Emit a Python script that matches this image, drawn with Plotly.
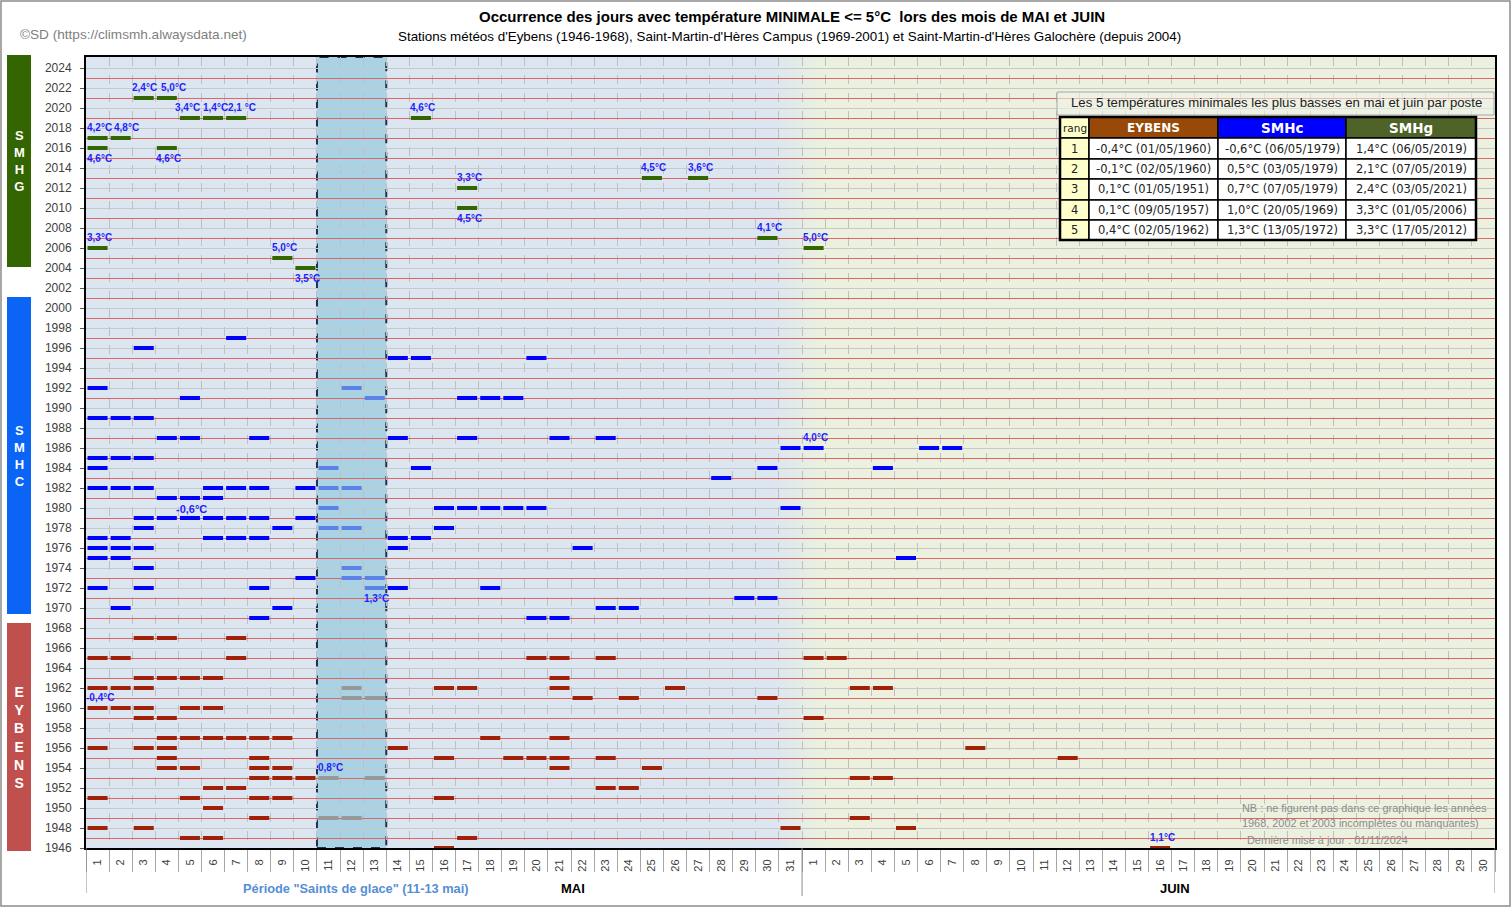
import plotly.graph_objects as go

# ---------------- data ----------------
may_days = list(range(1, 32))
june_days = list(range(1, 31))
day_tick_labels = [str(d) for d in may_days] + [str(d) for d in june_days]
year_tick_values = list(range(1946, 2025, 2))

# day index: 1..31 = 1..31 May, 32..61 = 1..30 June
# SMHg (Saint-Martin-d'Hères Galochère, since 2004): every occurrence with its Tmin
smhg_days = [3, 4, 5, 6, 7, 15, 1, 2, 1, 4, 17, 17, 25, 27, 30, 1, 32, 9, 10]
smhg_years = [2021, 2021, 2019, 2019, 2019, 2019, 2017, 2017, 2016, 2016,
              2012, 2010, 2013, 2013, 2007, 2006, 2006, 2005, 2004]
smhg_tmin = ["2,4°C", "5,0°C", "3,4°C", "1,4°C", "2,1 °C", "4,6°C", "4,2°C", "4,8°C",
             "4,6°C", "4,6°C", "3,3°C", "4,5°C", "4,5°C", "3,6°C", "4,1°C", "3,3°C",
             "5,0°C", "5,0°C", "3,5°C"]

# SMHc (Saint-Martin-d'Hères Campus, 1969-2001): year -> days
smhc_days_by_year = {
    1997: [7], 1996: [3], 1995: [14, 15, 20], 1992: [1], 1991: [5, 17, 18, 19],
    1989: [1, 2, 3], 1987: [4, 5, 8, 14, 17, 21, 23], 1986: [31, 32, 37, 38],
    1985: [1, 2, 3], 1984: [1, 15, 30, 35], 1983: [28],
    1982: [1, 2, 3, 6, 7, 8, 10], 1981: [4, 5, 6], 1980: [16, 17, 18, 19, 20, 31],
    1979: [3, 4, 5, 6, 7, 8, 10], 1978: [3, 9, 16], 1977: [1, 2, 6, 7, 8, 14, 15],
    1976: [1, 2, 3, 14, 22], 1975: [1, 2, 36], 1974: [3], 1973: [10],
    1972: [1, 3, 8, 14, 18], 1971: [29, 30], 1970: [2, 9, 23, 24], 1969: [8, 20, 21],
}
smhc_saints_by_year = {
    1992: [12], 1991: [13], 1984: [11], 1982: [11, 12], 1980: [11],
    1978: [11, 12], 1974: [12], 1973: [12, 13], 1972: [13],
}
smhc_label_days = [6, 13, 32]
smhc_label_years = [1979, 1972, 1986]
smhc_label_text = ["-0,6°C", "1,3°C", "4,0°C"]

# Eybens (1946-1968): year -> days
eyb_days_by_year = {
    1967: [3, 4, 7], 1965: [1, 2, 7, 20, 21, 23, 32, 33], 1963: [3, 4, 5, 6, 21],
    1962: [1, 2, 3, 16, 17, 21, 26, 34, 35], 1961: [22, 24, 30], 1960: [1, 2, 3, 5, 6],
    1959: [3, 4, 32], 1957: [4, 5, 6, 7, 8, 9, 18, 21], 1956: [1, 3, 4, 14, 39],
    1955: [4, 8, 16, 19, 20, 21, 23, 43], 1954: [4, 5, 8, 9, 21, 25],
    1953: [8, 9, 10, 34, 35], 1952: [6, 7, 23, 24], 1951: [1, 5, 8, 9, 16],
    1950: [6], 1949: [8, 34], 1948: [1, 3, 31, 36], 1947: [5, 6, 17], 1946: [16, 47],
}
eyb_saints_by_year = {1962: [12], 1961: [12, 13], 1953: [11, 13], 1949: [11, 12]}
eyb_label_days = [1, 11, 47]
eyb_label_years = [1960, 1953, 1946]
eyb_label_text = ["-0,4°C", "0,8°C", "1,1°C"]

# table: 5 lowest minima per station
table_ranks = ["1", "2", "3", "4", "5"]
table_headers = ["rang", "EYBENS", "SMHc", "SMHg"]
eybens_top5 = ["-0,4°C (01/05/1960)", "-0,1°C (02/05/1960)", "0,1°C (01/05/1951)",
               "0,1°C (09/05/1957)", "0,4°C (02/05/1962)"]
smhc_top5 = ["-0,6°C (06/05/1979)", "0,5°C (03/05/1979)", "0,7°C (07/05/1979)",
             "1,0°C (20/05/1969)", "1,3°C (13/05/1972)"]
smhg_top5 = ["1,4°C (06/05/2019)", "2,1°C (07/05/2019)", "2,4°C (03/05/2021)",
             "3,3°C (01/05/2006)", "3,3°C (17/05/2012)"]

# ---------------- geometry helpers (layout only) ----------------
L, R, T, B = 86, 1495, 57, 848
FW, FH = 1512, 908


def px(x):
    return (x - L) / (R - L)


def py(y):
    return (B - y) / (B - T)


def flatten(d):
    xs, ys = [], []
    for yr, days in d.items():
        for dd in days:
            xs.append(dd)
            ys.append(yr)
    return xs, ys


GREEN = "#336600"
BLUE = "#0000FF"
BLUE_SG = "#5C82E8"
RED = "#A02008"
GRAY_SG = "#989898"
LABEL_BLUE = "#1F1FFF"


def bars(days, years, color):
    return go.Scatter(
        x=days, y=years, mode="markers",
        marker=dict(symbol="line-ew", size=14.3, line=dict(width=4, color=color), color=color),
        hoverinfo="skip", showlegend=False,
    )


fig = go.Figure()
sx, sy = flatten(smhc_days_by_year)
fig.add_trace(bars(sx, sy, BLUE))
sx, sy = flatten(smhc_saints_by_year)
fig.add_trace(bars(sx, sy, BLUE_SG))
ex, ey = flatten(eyb_days_by_year)
fig.add_trace(bars(ex, ey, RED))
ex, ey = flatten(eyb_saints_by_year)
fig.add_trace(bars(ex, ey, GRAY_SG))
fig.add_trace(bars(smhg_days, smhg_years, GREEN))

# ---------------- shapes ----------------
shapes = []
MAY_BG = (220, 230, 241)
JUNE_BG = (235, 241, 222)
shapes.append(dict(type="rect", xref="x", yref="paper", x0=0.5, x1=30.2, y0=0, y1=1,
                   fillcolor="rgb(%d,%d,%d)" % MAY_BG, line=dict(width=0), layer="below"))
shapes.append(dict(type="rect", xref="x", yref="paper", x0=32.4, x1=61.5, y0=0, y1=1,
                   fillcolor="rgb(%d,%d,%d)" % JUNE_BG, line=dict(width=0), layer="below"))
nstep = 12
for i in range(nstep):
    a0 = 30.2 + (32.4 - 30.2) * i / nstep
    a1 = 30.2 + (32.4 - 30.2) * (i + 1) / nstep
    f = (i + 0.5) / nstep
    c = tuple(round(MAY_BG[k] + (JUNE_BG[k] - MAY_BG[k]) * f) for k in range(3))
    shapes.append(dict(type="rect", xref="x", yref="paper", x0=a0, x1=a1 + 0.01, y0=0, y1=1,
                       fillcolor="rgb(%d,%d,%d)" % c, line=dict(width=0), layer="below"))

# Saints de glace period
shapes.append(dict(type="rect", xref="x", yref="paper", x0=10.5, x1=13.5, y0=0, y1=1,
                   fillcolor="rgba(160,207,226,0.85)",
                   line=dict(color="#1F3350", width=2, dash="dash"), layer="between"))

# long separators under x axis
for xv, y_end in [(0.5, 893), (31.5, 896), (61.5, 893)]:
    shapes.append(dict(type="line", xref="x", yref="paper", x0=xv, x1=xv,
                       y0=py(B), y1=py(y_end), line=dict(color="#8C8C8C", width=1)))

# station bands on the left
bands = [(55, 267, "#336600"), (297, 614, "#0A64F5"), (623, 851, "#C0504D")]
for y0, y1, col in bands:
    shapes.append(dict(type="rect", xref="paper", yref="paper", x0=px(7), x1=px(31),
                       y0=py(y1), y1=py(y0), fillcolor=col, line=dict(width=0)))

# outer frame
shapes.append(dict(type="rect", xref="paper", yref="paper", x0=px(1), x1=px(1510),
                   y0=py(906), y1=py(1), line=dict(color="#8C8C8C", width=1.5)))

# table title box
shapes.append(dict(type="rect", xref="paper", yref="paper", x0=px(1057), x1=px(1494),
                   y0=py(115), y1=py(92), fillcolor="rgba(240,244,232,0.6)",
                   line=dict(color="#A6A6A6", width=1)))

annotations = []

# table cells
col_edges = [1060, 1089, 1218, 1346, 1476]
row_edges = [117, 138, 159, 179, 200, 220, 240]
header_fill = ["#FFFFCC", "#984807", "#0000FF", "#4F6228"]
header_font = [dict(size=10.5, color="#222222", family="DejaVu Sans"),
               dict(size=12, color="white", family="DejaVu Sans", weight="bold"),
               dict(size=13.5, color="white", family="DejaVu Sans", weight="bold"),
               dict(size=13.5, color="white", family="DejaVu Sans", weight="bold")]
columns = [table_ranks, eybens_top5, smhc_top5, smhg_top5]
for c in range(4):
    x0, x1 = col_edges[c], col_edges[c + 1]
    for r in range(6):
        y0, y1 = row_edges[r], row_edges[r + 1]
        if r == 0:
            fill = header_fill[c]
            txt = table_headers[c]
            font = header_font[c]
        else:
            fill = "#FFFFCC" if c == 0 else "white"
            txt = columns[c][r - 1]
            font = dict(size=11.5, color="#222222", family="DejaVu Sans")
        shapes.append(dict(type="rect", xref="paper", yref="paper", x0=px(x0), x1=px(x1),
                           y0=py(y1), y1=py(y0), fillcolor=fill,
                           line=dict(color="black", width=1.5)))
        annotations.append(dict(xref="paper", yref="paper", x=px((x0 + x1) / 2),
                                y=py((y0 + y1) / 2), text=txt, showarrow=False,
                                xanchor="center", yanchor="middle", font=font))
# thick outer table border
shapes.append(dict(type="rect", xref="paper", yref="paper", x0=px(col_edges[0]),
                   x1=px(col_edges[-1]), y0=py(row_edges[-1]), y1=py(row_edges[0]),
                   line=dict(color="black", width=2.5)))

annotations.append(dict(xref="paper", yref="paper", x=px(1276), y=py(103),
                        text="Les 5 températures minimales les plus basses en mai et juin par poste",
                        showarrow=False, xanchor="center", yanchor="middle",
                        font=dict(size=13.2, color="#222222", family="Liberation Sans")))

# value labels next to bars
below = {(1, 2016), (4, 2016), (17, 2010), (10, 2004), (13, 1972)}
xshift_special = {(6, 1979): -22, (3, 2021): 1, (4, 2021): 7, (5, 2019): -2, (6, 2019): 2,
                  (7, 2019): 6, (1, 2017): 2, (2, 2017): 6}
lab_font = dict(family="Liberation Sans", size=10, color=LABEL_BLUE, weight="bold")
all_labels = list(zip(smhg_days, smhg_years, smhg_tmin)) + \
    list(zip(smhc_label_days, smhc_label_years, smhc_label_text)) + \
    list(zip(eyb_label_days, eyb_label_years, eyb_label_text))
for d, yv, t in all_labels:
    is_below = (d, yv) in below
    big = (d, yv) == (6, 1979)
    annotations.append(dict(
        x=d, y=yv, xref="x", yref="y", text=t, showarrow=False,
        xanchor="center", yanchor="top" if is_below else "bottom",
        yshift=-3 if is_below else (1 if big else 3),
        xshift=xshift_special.get((d, yv), 2),
        font=dict(lab_font, size=11) if big else lab_font))

# titles and texts
annotations.append(dict(xref="paper", yref="paper", x=px(792), y=py(16),
                        text="Occurrence des jours avec température MINIMALE <= 5°C  lors des mois de MAI et JUIN",
                        showarrow=False, xanchor="center", yanchor="middle",
                        font=dict(family="Liberation Sans", size=15, color="black", weight="bold")))
annotations.append(dict(xref="paper", yref="paper", x=px(789), y=py(37),
                        text="Stations météos d'Eybens (1946-1968), Saint-Martin-d'Hères Campus (1969-2001) et Saint-Martin-d'Hères Galochère (depuis 2004)",
                        showarrow=False, xanchor="center", yanchor="middle",
                        font=dict(family="Liberation Sans", size=13.4, color="black")))
annotations.append(dict(xref="paper", yref="paper", x=px(18), y=py(34),
                        text="©SD (https://climsmh.alwaysdata.net)",
                        showarrow=False, xanchor="left", yanchor="middle",
                        font=dict(family="Liberation Sans", size=13.6, color="#7F7F7F")))
annotations.append(dict(xref="paper", yref="paper", x=px(356), y=py(889),
                        text='Période "Saints de glace" (11-13 mai)',
                        showarrow=False, xanchor="center", yanchor="middle",
                        font=dict(family="Liberation Sans", size=12.8, color="#558ED5", weight="bold")))
annotations.append(dict(xref="paper", yref="paper", x=px(573), y=py(889), text="MAI",
                        showarrow=False, xanchor="center", yanchor="middle",
                        font=dict(family="Liberation Sans", size=13, color="black", weight="bold")))
annotations.append(dict(xref="paper", yref="paper", x=px(1175), y=py(889), text="JUIN",
                        showarrow=False, xanchor="center", yanchor="middle",
                        font=dict(family="Liberation Sans", size=13, color="black", weight="bold")))
for txt, yy, xx in [("NB : ne figurent pas dans ce graphique les années", 808, 1240),
                    ("1968, 2002 et 2003 incomplètes ou manquantes)", 823, 1240),
                    ("Dernière mise à jour : 01/11/2024", 840, 1245)]:
    annotations.append(dict(xref="paper", yref="paper", x=px(xx), y=py(yy), text=txt,
                            showarrow=False, xanchor="left", yanchor="middle",
                            font=dict(family="Liberation Sans", size=10.9, color="#8C8C8C")))

# vertical station letters
for word, y0, y1, size in [("SMHG", 55, 267, 13), ("SMHC", 297, 614, 13), ("EYBENS", 623, 851, 14)]:
    annotations.append(dict(xref="paper", yref="paper", x=px(19), y=py((y0 + y1) / 2),
                            text="<br>".join(word), showarrow=False, xanchor="center",
                            yanchor="middle",
                            font=dict(family="Liberation Sans", size=size, color="white", weight="bold")))

fig.update_layout(
    width=FW, height=FH,
    margin=dict(l=L, r=FW - R, t=T, b=FH - B, pad=0),
    paper_bgcolor="white",
    plot_bgcolor="rgb(220,230,241)",
    showlegend=False,
    shapes=shapes,
    annotations=annotations,
    xaxis=dict(
        range=[0.5, 61.5], tickmode="array", tickvals=list(range(1, 62)), ticktext=day_tick_labels,
        tickangle=-90, tickfont=dict(family="Liberation Sans", size=11, color="#404040"),
        ticks="outside", ticklen=5, tickcolor="rgba(0,0,0,0)",
        showgrid=False, zeroline=False,
        showline=True, linecolor="black", linewidth=2, mirror=True,
        minor=dict(tickmode="linear", tick0=0.5, dtick=1, ticks="outside", ticklen=22,
                   tickcolor="#A6A6A6", tickwidth=1, showgrid=True, gridcolor="#BFBFBF",
                   griddash="dash", gridwidth=1),
    ),
    yaxis=dict(
        range=[1946, 2025.1], tickmode="array", tickvals=year_tick_values,
        tickfont=dict(family="Liberation Sans", size=12, color="#404040"),
        ticks="outside", ticklen=4, tickcolor="#595959", ticklabelstandoff=6,
        showgrid=True, gridcolor="#C8C8C8", gridwidth=1, zeroline=False,
        showline=True, linecolor="black", linewidth=2, mirror=True,
        minor=dict(tickmode="linear", tick0=1947, dtick=2, showgrid=True,
                   gridcolor="#E06666", gridwidth=1, ticks=""),
    ),
)

fig.write_html("out.html")
